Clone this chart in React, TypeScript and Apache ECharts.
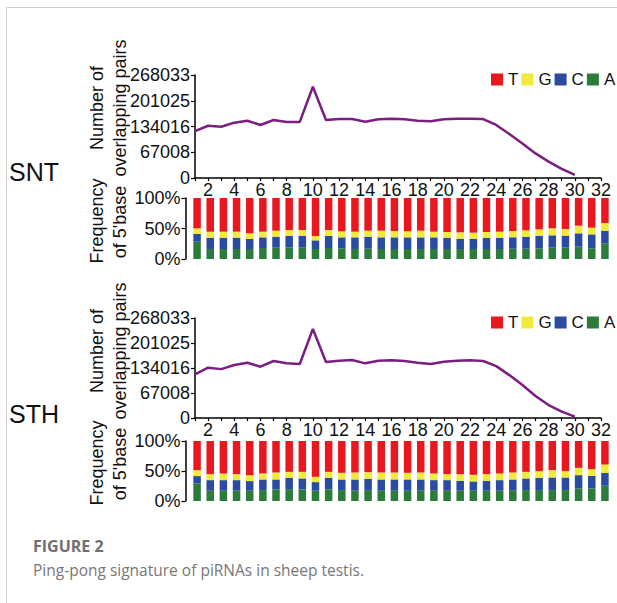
import { useEffect, useRef } from 'react';
import * as echarts from 'echarts';

const positions = ['1', '2', '3', '4', '5', '6', '7', '8', '9', '10', '11', '12', '13', '14', '15', '16', '17', '18', '19', '20', '21', '22', '23', '24', '25', '26', '27', '28', '29', '30', '31', '32'];

const sntPairs = [122000, 136000, 133500, 144000, 149000, 138000, 151000, 146000, 146000, 237500, 151000, 153500, 153500, 146500, 152700, 154300, 152700, 149000, 147500, 152700, 154300, 154300, 153500, 138000, 114500, 90000, 64000, 42500, 24000, 8000];
const sthPairs = [117000, 135000, 131000, 142000, 148000, 137500, 152800, 146500, 144700, 238500, 150000, 153600, 155400, 146500, 153600, 155000, 152800, 148000, 144700, 151000, 153600, 155000, 152800, 139000, 115000, 88400, 59000, 34800, 17000, 3500];

const pairTickLabels = ['0', '67008', '134016', '201025', '268033'];
const pairMax = 268033;

const bases = ['T', 'G', 'C', 'A'];

const sntA = [28.4, 16.4, 16.4, 16.4, 16.4, 18, 18.6, 19.1, 18.6, 16.4, 18, 17.5, 16.4, 16.9, 16.4, 16.4, 16.4, 16.4, 16.4, 16.4, 16.4, 16.4, 16.4, 16.4, 16.9, 16.9, 17.5, 18.6, 18.6, 20.2, 17.5, 25.7];
const sntC = [12.6, 18.6, 18.6, 18.6, 16.4, 17.5, 18, 18.6, 19.1, 14.2, 19.7, 18, 19.1, 19.7, 19.1, 19.1, 19.1, 19.1, 19.1, 18.6, 16.9, 16.9, 18, 18, 18.6, 19.7, 20.2, 20.2, 19.7, 21.9, 22.9, 20.7];
const sntG = [9.3, 9.8, 9.8, 9.8, 9.3, 9.3, 9.8, 9.8, 9.8, 7.1, 9.8, 9.9, 9.3, 9.8, 10.9, 10.4, 9.9, 10.9, 9.3, 9.3, 10.4, 9.9, 9.9, 10.4, 10.4, 10.4, 10.9, 11.5, 10.9, 12.5, 11, 12.6];
const sntT = [49.7, 55.2, 55.2, 55.2, 57.9, 55.2, 53.6, 52.5, 52.5, 62.3, 52.5, 54.6, 55.2, 53.6, 53.6, 54.1, 54.6, 53.6, 55.2, 55.7, 56.3, 56.8, 55.7, 55.2, 54.1, 53, 51.4, 49.7, 50.8, 45.4, 48.6, 41];

const sthA = [29.3, 17.1, 17.1, 17.1, 17.1, 18.2, 19.4, 19.9, 19.4, 17.1, 19.4, 18.2, 17.1, 18.2, 17.1, 17.1, 17.1, 17.1, 17.1, 17.1, 17.1, 17.1, 17.1, 17.1, 17.1, 18.2, 18.2, 18.2, 18.2, 21, 21, 25.4];
const sthC = [12.2, 17.7, 17.7, 17.7, 16.1, 17.7, 16.5, 18.8, 18.2, 14.4, 19.3, 17.7, 18.8, 18.8, 18.8, 18.8, 18.8, 18.8, 17.7, 17.7, 16.6, 15.5, 16.6, 17.7, 18.8, 19.4, 20.5, 21, 21, 22.1, 21, 21.6];
const sthG = [9.9, 10, 11.1, 10, 9.9, 10, 11.6, 9.9, 11, 8.8, 9.9, 11.1, 11.6, 11.1, 11.6, 11.6, 11.1, 11.6, 11.1, 10, 11.1, 11.1, 11.1, 11.1, 11.6, 11, 11.1, 12.2, 10.6, 12.2, 11.1, 13.8];
const sthT = [48.6, 55.2, 54.1, 55.2, 56.9, 54.1, 52.5, 51.4, 51.4, 59.7, 51.4, 53, 52.5, 51.9, 52.5, 52.5, 53, 52.5, 54.1, 55.2, 55.2, 56.3, 55.2, 54.1, 52.5, 51.4, 50.2, 48.6, 50.2, 44.7, 46.9, 39.2];

const COLORS: Record<string, string> = { T: '#e8181e', G: '#f2ea3a', C: '#2a4b9f', A: '#2b7c3a' };
const LINE_COLOR = '#7b1e80';
const FONT = '"Liberation Sans", Arial, sans-serif';
const INK = '#111';

function lineXAxis(gridIndex: number) {
  return {
    gridIndex,
    type: 'category',
    data: positions,
    boundaryGap: false,
    axisLine: { lineStyle: { color: '#000', width: 1.5 } },
    axisTick: { interval: 0, length: 3, lineStyle: { color: '#000', width: 1.2 } },
    axisLabel: {
      interval: (i: number) => i % 2 === 1,
      fontSize: 18,
      margin: 3,
      color: INK,
      fontFamily: FONT,
    },
  };
}

function barXAxis(gridIndex: number) {
  return { gridIndex, type: 'category', data: positions, show: false };
}

function lineYAxis(gridIndex: number) {
  return {
    gridIndex,
    type: 'value',
    min: 0,
    max: pairMax,
    interval: pairMax / 4,
    splitLine: { show: false },
    axisLine: { show: true, lineStyle: { color: '#000', width: 1.5 } },
    axisTick: { show: true, length: 4, lineStyle: { color: '#000', width: 1.2 } },
    axisLabel: {
      fontSize: 18,
      margin: 5,
      color: INK,
      fontFamily: FONT,
      formatter: (v: number) => pairTickLabels[Math.round(v / (pairMax / 4))],
    },
  };
}

function barYAxis(gridIndex: number) {
  return {
    gridIndex,
    type: 'value',
    min: 0,
    max: 100,
    interval: 50,
    offset: 5,
    splitLine: { show: false },
    axisLine: { show: true, lineStyle: { color: '#000', width: 1.5 } },
    axisTick: { show: true, length: 4, lineStyle: { color: '#000', width: 1.2 } },
    axisLabel: { fontSize: 18, margin: 5, color: INK, fontFamily: FONT, formatter: '{value}%' },
  };
}

function barSeries(idx: number, stack: string, data: Record<string, number[]>) {
  return ['A', 'C', 'G', 'T'].map((b) => ({
    name: b,
    type: 'bar',
    stack,
    xAxisIndex: idx,
    yAxisIndex: idx,
    barWidth: 7.5,
    itemStyle: { color: COLORS[b] },
    data: data[b],
  }));
}

function legendAt(top: number) {
  return {
    data: bases,
    left: 491,
    top,
    padding: 0,
    width: 300,
    icon: 'rect',
    itemWidth: 12,
    itemHeight: 12,
    itemGap: 3,
    selectedMode: false,
    textStyle: { fontSize: 17, color: INK, fontFamily: FONT },
  };
}

function vText(text: string, x: number, y: number) {
  return {
    type: 'text',
    x,
    y,
    rotation: Math.PI / 2,
    style: { text, fontSize: 18, fontFamily: FONT, fill: INK, textAlign: 'center', textVerticalAlign: 'middle' },
  };
}

export default function App() {
  const ref = useRef<HTMLDivElement>(null);
  useEffect(() => {
    if (!ref.current) return;
    const chart = echarts.init(ref.current, undefined, { renderer: 'svg' });
    chart.setOption({
      animation: false,
      backgroundColor: '#fff',
      textStyle: { fontFamily: FONT },
      grid: [
        { left: 195, top: 75, width: 406, height: 103 },
        { left: 190.5, top: 198, width: 421, height: 61 },
        { left: 195, top: 318, width: 406, height: 100 },
        { left: 190.5, top: 441, width: 421, height: 60 },
      ],
      xAxis: [lineXAxis(0), barXAxis(1), lineXAxis(2), barXAxis(3)],
      yAxis: [lineYAxis(0), barYAxis(1), lineYAxis(2), barYAxis(3)],
      legend: [legendAt(71), legendAt(314)],
      series: [
        {
          name: 'SNT pairs',
          type: 'line',
          xAxisIndex: 0,
          yAxisIndex: 0,
          data: sntPairs,
          symbol: 'none',
          lineStyle: { color: LINE_COLOR, width: 2.5 },
        },
        ...barSeries(1, 'snt', { A: sntA, C: sntC, G: sntG, T: sntT }),
        {
          name: 'STH pairs',
          type: 'line',
          xAxisIndex: 2,
          yAxisIndex: 2,
          data: sthPairs,
          symbol: 'none',
          lineStyle: { color: LINE_COLOR, width: 2.5 },
        },
        ...barSeries(3, 'sth', { A: sthA, C: sthC, G: sthG, T: sthT }),
      ],
      graphic: [
        { type: 'line', shape: { x1: 6.5, y1: 7.5, x2: 617, y2: 7.5 }, style: { stroke: '#cfcfcf', lineWidth: 1 } },
        { type: 'line', shape: { x1: 6.5, y1: 7.5, x2: 6.5, y2: 603 }, style: { stroke: '#cfcfcf', lineWidth: 1 } },
        vText('Number of', 97, 108),
        vText('overlapping pairs', 120, 108),
        vText('Frequency', 97, 221),
        vText("of 5'base", 120, 222),
        vText('Number of', 97, 351),
        vText('overlapping pairs', 120, 351),
        vText('Frequency', 97, 463),
        vText("of 5'base", 120, 464),
        {
          type: 'text',
          x: 9,
          y: 172,
          style: { text: 'SNT', fontSize: 25, fontFamily: FONT, fill: INK, textVerticalAlign: 'middle' },
        },
        {
          type: 'text',
          x: 9,
          y: 414,
          style: { text: 'STH', fontSize: 25, fontFamily: FONT, fill: INK, textVerticalAlign: 'middle' },
        },
        {
          type: 'text',
          x: 33,
          y: 546,
          style: { text: 'FIGURE 2', fontSize: 16, fontWeight: 'bold', fontFamily: '"Open Sans", sans-serif', fill: '#707070', textVerticalAlign: 'middle' },
        },
        {
          type: 'text',
          x: 33,
          y: 570,
          style: { text: 'Ping-pong signature of piRNAs in sheep testis.', fontSize: 15.5, fontFamily: '"Open Sans", sans-serif', fill: '#777', textVerticalAlign: 'middle' },
        },
      ],
    });
    return () => chart.dispose();
  }, []);
  return <div ref={ref} style={{ position: 'fixed', left: 0, top: 0, width: 617, height: 603 }} />;
}
